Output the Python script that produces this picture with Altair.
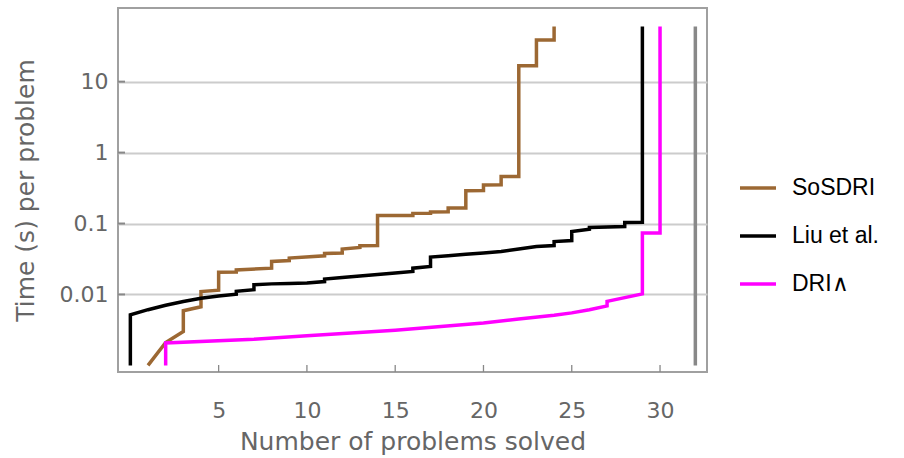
import altair as alt
import pandas as pd

# ---------------- data ----------------
series_names = ["SoSDRI", "Liu et al.", "DRI∧"]
series_colors = ["#9c6833", "#000000", "#ff00ff"]

sosdri_x = [1, 2, 3, 3, 4, 4, 5, 5, 6, 6, 8, 8, 9, 9, 11, 11, 12, 12, 13, 13,
            14, 14, 16, 16, 17, 17, 18, 18, 19, 19, 20, 20, 21, 21, 22, 22,
            23, 23, 24, 24]
sosdri_y = [0.001, 0.0021, 0.003, 0.0059, 0.0067, 0.011, 0.0115, 0.0205,
            0.0207, 0.0222, 0.0235, 0.0292, 0.0300, 0.0326, 0.0351, 0.0378,
            0.0383, 0.0436, 0.0459, 0.0485, 0.0490, 0.1297, 0.130, 0.139,
            0.140, 0.145, 0.146, 0.165, 0.166, 0.290, 0.292, 0.350, 0.352,
            0.460, 0.460, 16.8, 16.8, 38.7, 38.7, 60]

liu_x = [0, 0, 1, 2, 3, 4, 5, 6, 6, 7, 7, 8, 9, 10, 11, 11, 12, 13, 14, 15,
         16, 16, 17, 17, 18, 19, 20, 21, 22, 23, 24, 24, 25, 25, 26, 26, 28,
         28, 29, 29]
liu_y = [0.001, 0.00518, 0.0061, 0.00705, 0.00797, 0.00883, 0.0095, 0.01007,
         0.0111, 0.01165, 0.0137, 0.0141, 0.0143, 0.0145, 0.0152, 0.0165,
         0.0173, 0.0182, 0.0191, 0.0200, 0.0211, 0.0235, 0.0248, 0.0336,
         0.0351, 0.0368, 0.0383, 0.0403, 0.0436, 0.0474, 0.0490, 0.0557,
         0.0575, 0.0771, 0.0834, 0.0879, 0.0908, 0.1033, 0.104, 60]

dri_x = [2, 2, 7, 10, 15, 20, 22, 24, 25, 26, 27, 27, 29, 29, 30, 30]
dri_y = [0.001, 0.00207, 0.00234, 0.00262, 0.00314, 0.00395, 0.0045, 0.0051,
         0.0055, 0.0061, 0.0069, 0.0080, 0.0102, 0.0733, 0.0733, 60]

total_x = [32, 32]
total_y = [0.001, 60]

x_tick_values = [5, 10, 15, 20, 25, 30]
y_tick_values = [0.01, 0.1, 1, 10]

# ---------------- tables ----------------
rows = []
for name, xs, ys in zip(series_names, [sosdri_x, liu_x, dri_x],
                        [sosdri_y, liu_y, dri_y]):
    for i, (xv, yv) in enumerate(zip(xs, ys)):
        rows.append({"solver": name, "solved": xv, "time": yv, "order": i})
df = pd.DataFrame(rows)
df_total = pd.DataFrame({"solved": total_x, "time": total_y,
                         "order": list(range(len(total_x)))})
df_xt = pd.DataFrame({"v": x_tick_values})
df_yt = pd.DataFrame({"v": y_tick_values})

AXFONT = "DejaVu Sans"
LEGFONT = "Liberation Sans"
GRAY_TXT = "#666666"

x_scale = alt.Scale(domain=[-0.70, 32.66], nice=False, zero=False)
y_scale = alt.Scale(type="log", domain=[10 ** -3.093, 10 ** 2.038], nice=False)

lines = alt.Chart(df).mark_line(strokeWidth=3.5, clip=True).encode(
    x=alt.X("solved:Q", scale=x_scale,
            axis=alt.Axis(values=x_tick_values, title="Number of problems solved",
                          grid=False, ticks=False, domain=False,
                          labelFontSize=22, labelFont=AXFONT, labelColor=GRAY_TXT,
                          labelPadding=28, titleFontSize=25, titleFont=AXFONT,
                          titleColor=GRAY_TXT, titleFontWeight="normal",
                          titlePadding=8)),
    y=alt.Y("time:Q", scale=y_scale,
            axis=alt.Axis(values=y_tick_values, title="Time (s) per problem",
                          format="~g", grid=True, gridColor="#cccccc",
                          gridWidth=2, ticks=False, domain=False,
                          labelFontSize=22, labelFont=AXFONT, labelColor=GRAY_TXT,
                          labelPadding=10, titleFontSize=25, titleFont=AXFONT,
                          titleColor=GRAY_TXT, titleFontWeight="normal",
                          titlePadding=21)),
    color=alt.Color("solver:N",
                    scale=alt.Scale(domain=series_names, range=series_colors),
                    legend=alt.Legend(orient="none", legendX=620, legendY=160,
                                      title=None, symbolType="stroke",
                                      symbolSize=1296, symbolStrokeWidth=3.5,
                                      labelFontSize=23, labelFont=LEGFONT,
                                      labelColor="black", labelOffset=14,
                                      rowPadding=16, padding=0)),
    order="order:Q",
)

total = alt.Chart(df_total).mark_line(strokeWidth=3.5, color="#888888",
                                      clip=True).encode(
    x=alt.X("solved:Q", scale=x_scale),
    y=alt.Y("time:Q", scale=y_scale),
    order="order:Q",
)

xticks = alt.Chart(df_xt).mark_rule(color="#888888", strokeWidth=1.3).encode(
    x=alt.X("v:Q", scale=x_scale),
    y=alt.value(364), y2=alt.value(357),
)
yticks = alt.Chart(df_yt).mark_rule(color="#888888", strokeWidth=2).encode(
    y=alt.Y("v:Q", scale=y_scale),
    x=alt.value(0), x2=alt.value(7),
)

chart = alt.layer(lines, total, xticks, yticks).properties(
    width=589, height=364,
    autosize=alt.AutoSizeParams(type="none"),
    padding={"left": 118, "top": 8, "right": 197, "bottom": 86},
).configure_view(stroke="#a0a0a0", strokeWidth=2)

chart.save("out.html", embed_options={"renderer": "svg", "actions": False})
